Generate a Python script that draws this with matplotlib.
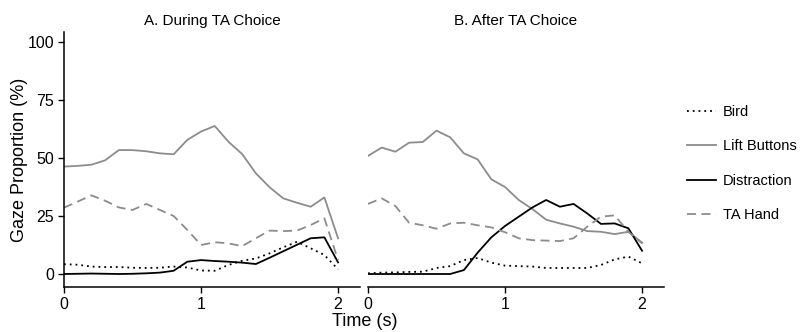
import numpy as np
import matplotlib
matplotlib.use("Agg")
import matplotlib.pyplot as plt

plt.rcParams["font.family"] = ["Liberation Sans", "DejaVu Sans"]

# time points, 0 to 2 s in 0.1 s steps
time_s = [0.0, 0.1, 0.2, 0.3, 0.4, 0.5, 0.6, 0.7, 0.8, 0.9, 1.0,
          1.1, 1.2, 1.3, 1.4, 1.5, 1.6, 1.7, 1.8, 1.9, 2.0]

# A. During TA Choice
bird_a = [4.2, 4.0, 3.2, 3.0, 3.0, 2.7, 2.6, 2.7, 3.2, 2.8, 1.5,
          1.4, 3.9, 5.7, 6.7, 8.9, 11.5, 13.9, 11.1, 8.2, 2.0]
lift_a = [46.3, 46.6, 47.1, 49.0, 53.4, 53.4, 52.9, 52.0, 51.6, 57.8, 61.4,
          63.8, 57.0, 51.7, 43.4, 37.4, 32.6, 30.7, 29.0, 33.0, 15.4]
distr_a = [0.0, 0.1, 0.2, 0.1, 0.0, 0.1, 0.3, 0.6, 1.4, 5.3, 6.0,
           5.6, 5.3, 4.9, 4.3, 7.0, 9.8, 12.6, 15.4, 15.8, 5.0]
hand_a = [28.6, 31.2, 33.9, 31.6, 28.7, 27.6, 30.2, 27.6, 25.0, 19.0, 12.5,
          13.7, 13.2, 12.0, 15.4, 18.7, 18.5, 18.7, 21.1, 24.0, 6.0]

# B. After TA Choice
bird_b = [0.3, 0.6, 0.7, 0.9, 1.0, 2.6, 3.4, 6.0, 6.9, 4.9, 3.6,
          3.4, 3.2, 2.6, 2.6, 2.6, 2.6, 3.9, 6.3, 7.5, 4.6]
lift_b = [50.9, 54.5, 52.7, 56.6, 56.9, 61.8, 58.9, 52.0, 49.4, 40.8, 37.5,
          31.9, 28.0, 23.4, 21.8, 20.4, 18.5, 18.2, 17.2, 18.2, 13.5]
distr_b = [0.0, 0.0, 0.0, 0.0, 0.0, 0.0, 0.0, 1.7, 9.2, 15.8, 20.7,
           24.7, 28.7, 31.9, 29.0, 30.2, 26.1, 21.6, 21.8, 19.7, 10.0]
hand_b = [30.2, 32.6, 29.3, 22.1, 21.0, 19.5, 21.8, 22.1, 21.0, 20.1, 18.0,
          15.4, 14.6, 14.4, 14.2, 15.4, 20.4, 24.7, 25.3, 18.2, 13.2]

titles = ["A. During TA Choice", "B. After TA Choice"]
labels = ["Bird", "Lift Buttons", "Distraction", "TA Hand"]

fig = plt.figure(figsize=(8.01, 3.32), dpi=100)
ax_a = fig.add_axes([64 / 801, 45 / 332, 296 / 801, 255 / 332])
ax_b = fig.add_axes([368 / 801, 45 / 332, 296 / 801, 255 / 332])

styles = [
    dict(color="black", linestyle=(0, (1, 2.2)), linewidth=1.3),
    dict(color="#8c8c8c", linestyle="-", linewidth=1.3),
    dict(color="black", linestyle="-", linewidth=1.3),
    dict(color="#8c8c8c", linestyle=(0, (5, 3)), linewidth=1.3),
]

panels = [
    (ax_a, [bird_a, lift_a, distr_a, hand_a]),
    (ax_b, [bird_b, lift_b, distr_b, hand_b]),
]

for i, (ax, series) in enumerate(panels):
    for vals, lab, st in zip(series, labels, styles):
        ax.plot(time_s, vals, label=lab, **st)
    ax.set_xlim(0, 2.16)
    ax.set_ylim(-5.6, 104.3)
    ax.set_xticks([0, 1, 2])
    ax.set_title(titles[i], fontsize=11, pad=5)
    ax.spines["top"].set_visible(False)
    ax.spines["right"].set_visible(False)
    ax.tick_params(direction="out", labelsize=11.5, length=4, width=1, pad=3)
    for s in ["left", "bottom"]:
        ax.spines[s].set_linewidth(1.1)

ax_a.set_yticks([0, 25, 50, 75, 100])
ax_a.set_ylabel("Gaze Proportion (%)", fontsize=13, labelpad=0)
ax_b.spines["left"].set_visible(False)
ax_b.set_yticks([])

fig.text(365 / 801, 1 - 321 / 332, "Time (s)", ha="center", va="center", fontsize=13)

handles, labs = ax_a.get_legend_handles_labels()
fig.legend(handles, labs, loc="center left", bbox_to_anchor=(687 / 801, 1 - 163.5 / 332),
           frameon=False, fontsize=10.5, handlelength=2.0, labelspacing=1.4,
           handletextpad=0.48, borderpad=0, borderaxespad=0)

fig.savefig("out.png", dpi=100)
